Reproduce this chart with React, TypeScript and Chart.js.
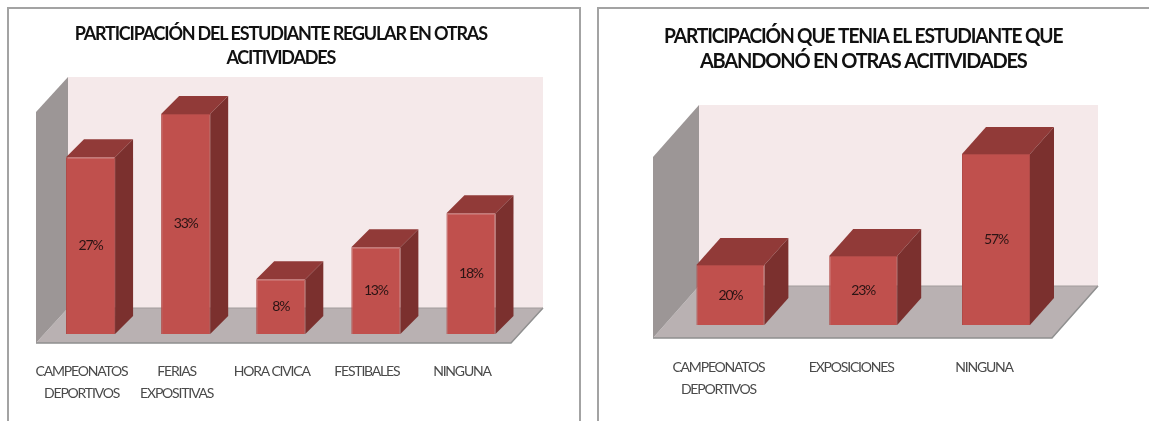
import React, { useEffect, useRef } from "react";
import { Chart, registerables } from "chart.js";

Chart.register(...registerables);

const regularTitle = ["PARTICIPACIÓN DEL ESTUDIANTE REGULAR EN OTRAS", "ACITIVIDADES"];
const regularCategories = [["CAMPEONATOS", "DEPORTIVOS"], ["FERIAS", "EXPOSITIVAS"], "HORA CIVICA", "FESTIBALES", "NINGUNA"];
const regularValues = [26.5, 33, 8.2, 13, 18.1];

const leftTitle = ["PARTICIPACIÓN QUE TENIA EL ESTUDIANTE QUE", "ABANDONÓ EN OTRAS ACITIVIDADES"];
const leftCategories = [["CAMPEONATOS", "DEPORTIVOS"], "EXPOSICIONES", "NINGUNA"];
const leftValues = [20, 23, 57];

const FONT = "Lato, 'Liberation Sans', sans-serif";

const box3d = {
  id: "box3d",
  beforeDraw(chart: any, _a: any, o: any) {
    chart.ctx.letterSpacing = o.spacing;
  },
  beforeDatasetsDraw(chart: any, _a: any, o: any) {
    const { ctx, chartArea: ca } = chart;
    const l = ca.left + o.wallLeft;
    const r = ca.right + o.wallRight;
    const front = ca.bottom + o.floorBelow;
    const top = ca.top + o.wallTop;
    const { dx, dy } = o.wallDepth;
    const poly = (pts: number[][], fill: string) => {
      ctx.beginPath();
      pts.forEach((p, i) => (i ? ctx.lineTo(p[0], p[1]) : ctx.moveTo(p[0], p[1])));
      ctx.closePath();
      ctx.fillStyle = fill;
      ctx.fill();
    };
    ctx.save();
    poly([[l + dx, top], [r + dx, top], [r + dx, front - dy], [l + dx, front - dy]], "#f5e9ea");
    poly([[l, front], [r, front], [r + dx, front - dy], [l + dx, front - dy]], "#b9b1b2");
    poly([[l, top + dy], [l + dx, top], [l + dx, front - dy], [l, front]], "#9c9696");
    ctx.strokeStyle = "#8f8f8f";
    ctx.lineWidth = 1.5;
    ctx.beginPath();
    ctx.moveTo(l, front);
    ctx.lineTo(r, front);
    ctx.lineTo(r + dx, front - dy);
    ctx.stroke();
    ctx.lineWidth = 1;
    ctx.strokeStyle = "#a29c9c";
    ctx.beginPath();
    ctx.moveTo(l + dx, front - dy);
    ctx.lineTo(r + dx, front - dy);
    ctx.stroke();
    const d = o.barDepth;
    chart.getDatasetMeta(0).data.forEach((b: any) => {
      const x0 = b.x - b.width / 2;
      const x1 = b.x + b.width / 2;
      poly([[x0, b.y], [x1, b.y], [x1 + d.dx, b.y - d.dy], [x0 + d.dx, b.y - d.dy]], "#913a38");
      poly([[x1, b.y], [x1 + d.dx, b.y - d.dy], [x1 + d.dx, b.base - d.dy], [x1, b.base]], "#7b302e");
    });
    ctx.restore();
  },
  afterDatasetsDraw(chart: any, _a: any, o: any) {
    const { ctx } = chart;
    const meta = chart.getDatasetMeta(0);
    const vals = chart.data.datasets[0].data;
    ctx.save();
    ctx.font = `${o.labelSize}px ${FONT}`;
    ctx.fillStyle = "#2a1414";
    ctx.textAlign = "center";
    ctx.textBaseline = "middle";
    meta.data.forEach((b: any, i: number) => {
      ctx.fillText(`${Math.round(vals[i])}%`, b.x, (b.y + b.base) / 2);
    });
    ctx.restore();
  },
};

function Bar3D(props: any) {
  const ref = useRef<HTMLCanvasElement>(null);
  useEffect(() => {
    const chart = new Chart(ref.current as HTMLCanvasElement, {
      type: "bar",
      data: {
        labels: props.categories,
        datasets: [{
          data: props.values,
          backgroundColor: "#c0504d",
          borderColor: "#b04a47",
          borderWidth: 1,
          barPercentage: props.barPct,
          categoryPercentage: 1,
        }],
      },
      plugins: [box3d],
      options: {
        animation: false,
        responsive: false,
        layout: { padding: props.padding },
        scales: {
          x: {
            grid: { display: false, drawTicks: false },
            border: { display: false },
            afterFit: (s: any) => { s.height = props.axisHeight; s.paddingLeft = 0; s.paddingRight = 0; },
            ticks: {
              autoSkip: false,
              maxRotation: 0,
              padding: props.tickPad,
              labelOffset: props.labelOffset,
              color: "#4a4a4a",
              font: { family: FONT, size: props.tickSize, lineHeight: props.tickLine },
            },
          },
          y: { display: false, min: 0, max: props.yMax },
        },
        plugins: {
          legend: { display: false },
          tooltip: { enabled: false },
          title: {
            display: true,
            text: props.title,
            color: "#111111",
            padding: props.titlePad,
            font: { family: FONT, size: props.titleSize, weight: "bold", lineHeight: props.titleLine },
          },
          box3d: props.frame,
        } as any,
      },
    });
    return () => chart.destroy();
  }, []);
  return (
    <div style={{ position: "absolute", left: props.x, top: 7, width: props.w, height: 414, boxSizing: "border-box", borderTop: "2px solid #a3a3a3", borderLeft: "2px solid #a3a3a3", borderRight: props.rightBorder ? "2px solid #a3a3a3" : "none" }}>
      <canvas ref={ref} width={props.w} height={414} style={{ position: "absolute", left: -2, top: -2, display: "block" }} />
    </div>
  );
}

export default function App() {
  return (
    <div style={{ position: "fixed", left: 0, top: 0, width: 1149, height: 421, overflow: "hidden", background: "#fff" }}>
      <Bar3D
        x={7} w={574} rightBorder title={regularTitle} categories={regularCategories} values={regularValues}
        barPct={0.516} yMax={35} padding={{ left: 36, right: 62.5 }} axisHeight={87}
        tickPad={26} tickSize={14} tickLine={1.6} labelOffset={-9}
        titleSize={18} titleLine={1.33} titlePad={{ top: 15, bottom: 30.7 }}
        frame={{ spacing: "-1.2px", wallLeft: -7, wallRight: -7.5, floorBelow: 9, wallTop: -23.7, wallDepth: { dx: 32, dy: 35 }, barDepth: { dx: 18, dy: 18 }, labelSize: 14 }}
      />
      <Bar3D
        x={597} w={558} title={leftTitle} categories={leftCategories} values={leftValues}
        barPct={0.512} yMax={60} padding={{ left: 67, right: 92.6 }} axisHeight={96}
        tickPad={31} tickSize={14} tickLine={1.6} labelOffset={-12}
        titleSize={20} titleLine={1.25} titlePad={{ top: 17.5, bottom: 70.5 }}
        frame={{ spacing: "-1.2px", wallLeft: -11, wallRight: -10.4, floorBelow: 13, wallTop: -40, wallDepth: { dx: 46, dy: 52 }, barDepth: { dx: 24, dy: 27 }, labelSize: 14 }}
      />
    </div>
  );
}
